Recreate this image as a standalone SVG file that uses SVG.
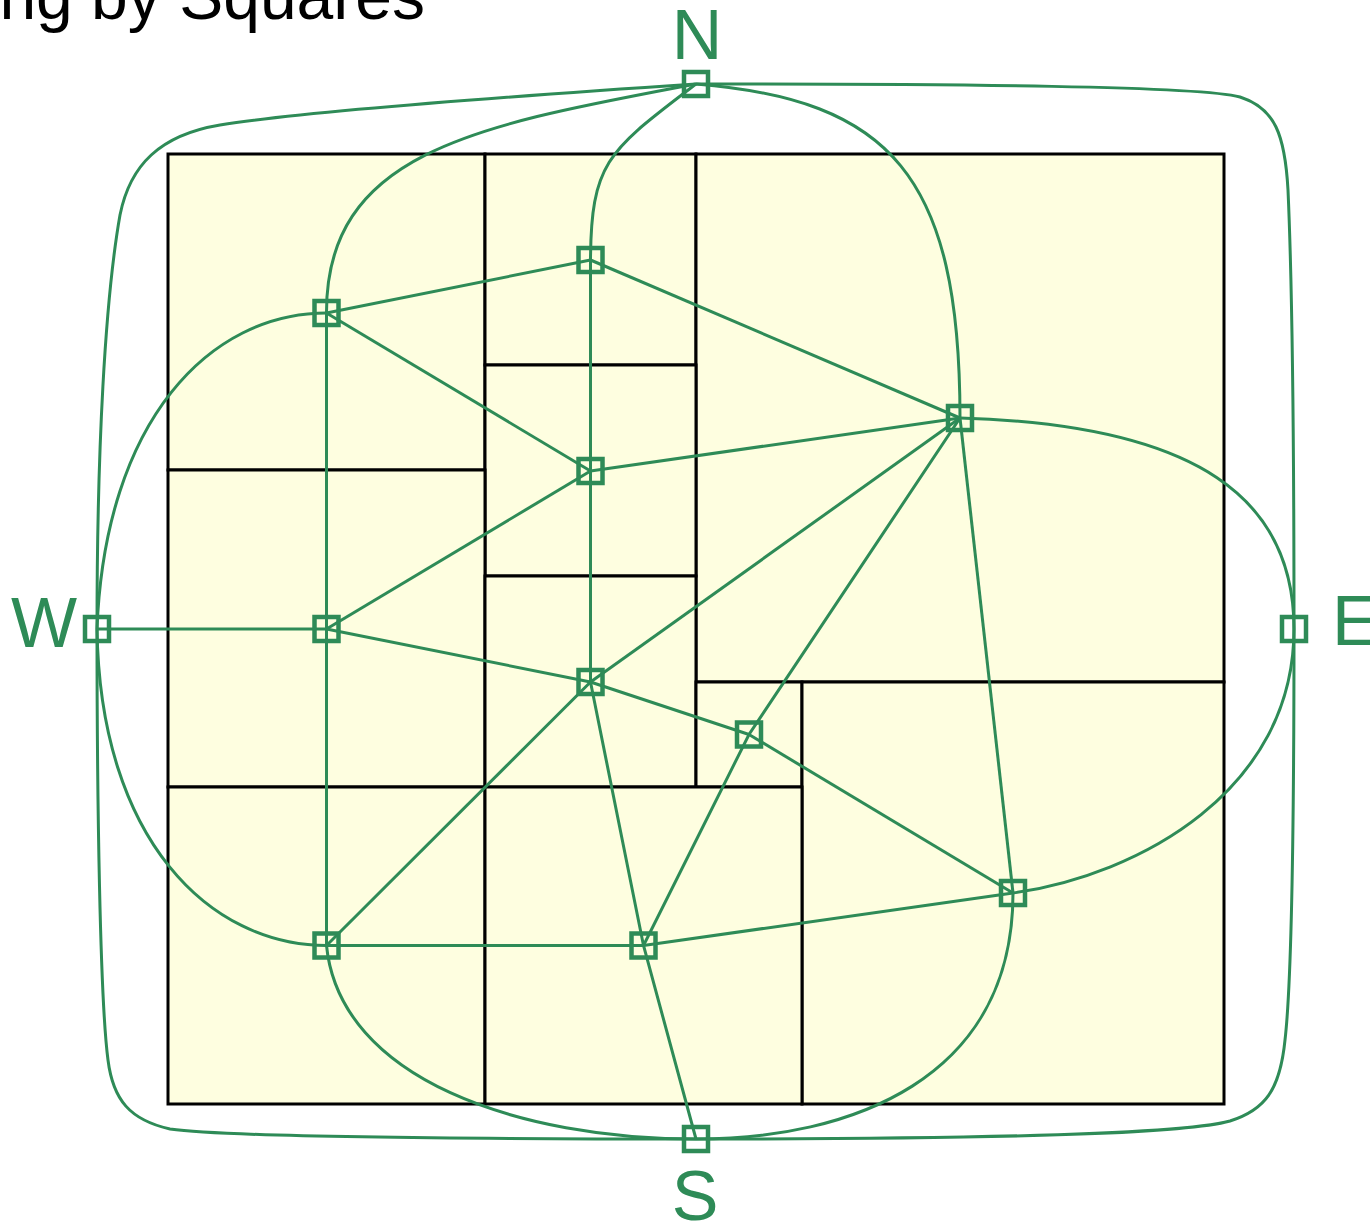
<svg xmlns="http://www.w3.org/2000/svg" width="1370" height="1226" viewBox="0 0 1370 1226">
<style>
.tile{fill:#fefee0;stroke:#000;stroke-width:3}
.e{fill:none;stroke:#2e8b57;stroke-width:3}
.n{fill:none;stroke:#2e8b57;stroke-width:4.5}
.lbl{font-family:"Liberation Sans",Arial,sans-serif;font-size:70px;fill:#2e8b57}
.title{font-family:"Liberation Sans",Arial,sans-serif;font-size:66px;fill:#000}
</style>
<rect width="1370" height="1226" fill="#fff"/>
<text class="title" x="425" y="19" text-anchor="end">ng by Squares</text>
<g id="tiles">
<rect class="tile" x="168" y="154" width="317" height="316"/>
<rect class="tile" x="485" y="154" width="211" height="211"/>
<rect class="tile" x="696" y="154" width="528" height="528"/>
<rect class="tile" x="485" y="365" width="211" height="211"/>
<rect class="tile" x="168" y="470" width="317" height="317"/>
<rect class="tile" x="485" y="576" width="211" height="211"/>
<rect class="tile" x="696" y="682" width="106" height="105"/>
<rect class="tile" x="802" y="682" width="422" height="422"/>
<rect class="tile" x="168" y="787" width="317" height="317"/>
<rect class="tile" x="485" y="787" width="317" height="317"/>
</g>
<g id="connectors">
<path class="e" d="M326.5,313 L590.5,260"/>
<path class="e" d="M326.5,313 L590.5,471"/>
<path class="e" d="M326.5,313 L326.5,629 L326.5,945.5"/>
<path class="e" d="M590.5,260 L960,418"/>
<path class="e" d="M590.5,260 L590.5,471 L590.5,682"/>
<path class="e" d="M590.5,471 L960,418"/>
<path class="e" d="M590.5,471 L326.5,629"/>
<path class="e" d="M97,629 L326.5,629"/>
<path class="e" d="M326.5,629 L590.5,682"/>
<path class="e" d="M590.5,682 L960,418"/>
<path class="e" d="M590.5,682 L749,734.5"/>
<path class="e" d="M590.5,682 L326.5,945.5"/>
<path class="e" d="M590.5,682 L643.5,945.5 L696,1139"/>
<path class="e" d="M960,418 L749,734.5 L643.5,945.5"/>
<path class="e" d="M749,734.5 L1013,893"/>
<path class="e" d="M960,418 L1013,893"/>
<path class="e" d="M326.5,945.5 L643.5,945.5 L1013,893"/>
<path class="e" d="M696,84 C480,125 326,150 326.5,313"/>
<path class="e" d="M696,84 C610,150 591,160 590.5,260"/>
<path class="e" d="M696,84 C890,100 960,175 960,418"/>
<path class="e" d="M696,84 C500,97 300,112 220,125 C160,135 130,165 120,215 C105,300 97,450 97,629"/>
<path class="e" d="M696,84 C960,84 1200,86 1240,97 C1275,108 1285,135 1288,190 C1292,280 1294,450 1294,629"/>
<path class="e" d="M97,629 C97,800 100,1000 108,1060 C113,1100 130,1120 170,1129 C220,1136 400,1139 696,1139"/>
<path class="e" d="M1294,629 C1294,800 1292,980 1285,1040 C1280,1090 1265,1110 1230,1121 C1190,1132 1050,1139 696,1139"/>
<path class="e" d="M97,629 C105,420 210,313 326.5,313"/>
<path class="e" d="M97,629 C100,840 210,945.5 326.5,945.5"/>
<path class="e" d="M960,418 C1200,425 1294,500 1294,629"/>
<path class="e" d="M1294,629 C1294,790 1140,875 1013,893"/>
<path class="e" d="M326.5,945.5 C340,1080 520,1139 696,1139"/>
<path class="e" d="M1013,893 C1013,1080 850,1139 696,1139"/>
</g>
<g id="node-A"><rect class="n" x="314.5" y="301" width="24" height="24"/></g>
<g id="node-B"><rect class="n" x="578.5" y="248" width="24" height="24"/></g>
<g id="node-C"><rect class="n" x="948" y="406" width="24" height="24"/></g>
<g id="node-D"><rect class="n" x="578.5" y="459" width="24" height="24"/></g>
<g id="node-E"><rect class="n" x="314.5" y="617" width="24" height="24"/></g>
<g id="node-F"><rect class="n" x="578.5" y="670" width="24" height="24"/></g>
<g id="node-G"><rect class="n" x="737" y="722.5" width="24" height="24"/></g>
<g id="node-H"><rect class="n" x="1001" y="881" width="24" height="24"/></g>
<g id="node-I"><rect class="n" x="314.5" y="933.5" width="24" height="24"/></g>
<g id="node-J"><rect class="n" x="631.5" y="933.5" width="24" height="24"/></g>
<g id="node-N"><rect class="n" x="684" y="72" width="24" height="24"/><text class="lbl" x="697" y="59" text-anchor="middle">N</text></g>
<g id="node-S"><rect class="n" x="684" y="1127" width="24" height="24"/><text class="lbl" x="695" y="1220" text-anchor="middle">S</text></g>
<g id="node-W"><rect class="n" x="85" y="617" width="24" height="24"/><text class="lbl" x="44" y="647" text-anchor="middle">W</text></g>
<g id="node-E-outer"><rect class="n" x="1282" y="617" width="24" height="24"/><text class="lbl" x="1332" y="645">E</text></g>
</svg>
